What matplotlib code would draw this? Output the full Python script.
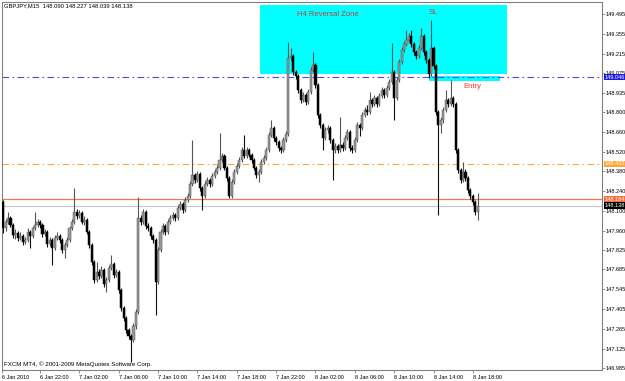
import numpy as np
import matplotlib
matplotlib.use("Agg")
import matplotlib.pyplot as plt
from matplotlib.patches import Rectangle
import matplotlib.transforms as mtransforms

# GBPJPY M15 candles, 6 Jan 18:15 -> 8 Jan 18:30
header = "GBPJPY,M15  148.090 148.227 148.039 148.138"
first_open = 148.162
closes = [
    147.977, 148.020, 148.048, 147.999, 147.928, 147.942, 147.907, 147.921, 147.878, 147.892,
    147.949, 147.921, 147.977, 147.999, 148.020, 147.999, 147.935, 147.949, 147.864, 147.892,
    147.836, 147.907, 147.921, 147.892, 147.821, 147.857, 147.892, 147.977, 148.020, 148.091,
    148.063, 148.084, 148.020, 148.034, 147.949, 147.857, 147.736, 147.609, 147.666, 147.637,
    147.679, 147.580, 147.609, 147.694, 147.722, 147.644, 147.666, 147.538, 147.410, 147.339,
    147.254, 147.212, 147.183, 147.283, 147.382, 148.048, 148.020, 148.091, 147.992, 147.977,
    147.921, 147.892, 147.595, 147.821, 147.949, 147.992, 147.949, 148.020, 148.048, 148.070,
    148.048, 148.119, 148.148, 148.105, 148.176, 148.204, 148.289, 148.353, 148.318, 148.360,
    148.261, 148.204, 148.289, 148.318, 148.289, 148.346, 148.375, 148.403, 148.460, 148.488,
    148.403, 148.332, 148.204, 148.304, 148.375, 148.417, 148.460, 148.531, 148.488, 148.531,
    148.495, 148.460, 148.403, 148.353, 148.375, 148.445, 148.474, 148.531, 148.637, 148.686,
    148.616, 148.587, 148.545, 148.531, 148.601, 148.644, 149.183, 149.197, 149.084, 149.055,
    148.956, 148.885, 148.920, 148.871, 148.942, 149.098, 149.133, 148.991, 148.779, 148.708,
    148.616, 148.672, 148.686, 148.601, 148.531, 148.559, 148.531, 148.566, 148.545, 148.616,
    148.658, 148.545, 148.531, 148.601, 148.708, 148.686, 148.779, 148.814, 148.800, 148.885,
    148.857, 148.899, 148.857, 148.913, 148.956, 148.920, 148.970, 149.013, 149.084, 148.899,
    149.027, 149.154, 149.239, 149.282, 149.310, 149.339, 149.282, 149.225, 149.197, 149.254,
    149.339, 149.225, 149.169, 149.069, 149.254, 149.126, 148.800, 148.708, 148.743, 148.814,
    148.885, 148.857, 148.899, 148.857, 148.531, 148.389, 148.318, 148.375, 148.332, 148.247,
    148.204, 148.162, 148.090, 148.138,
]
highs = [
    148.176, 148.041, 148.091, 148.062, 148.013, 147.970, 147.956, 147.949, 147.935, 147.914,
    147.977, 147.963, 147.992, 148.091, 148.041, 148.034, 148.013, 147.970, 147.963, 147.914,
    147.907, 147.928, 147.949, 147.935, 147.907, 147.878, 147.914, 147.992, 148.041, 148.261,
    148.112, 148.105, 148.098, 148.062, 148.048, 147.963, 147.871, 147.750, 147.736, 147.687,
    147.708, 147.694, 147.630, 147.715, 147.786, 147.736, 147.687, 147.680, 147.552, 147.424,
    147.353, 147.268, 147.226, 147.304, 147.403, 148.197, 148.069, 148.112, 148.105, 148.013,
    147.992, 147.935, 147.907, 147.843, 147.970, 148.013, 148.006, 148.041, 148.069, 148.091,
    148.084, 148.140, 148.169, 148.162, 148.197, 148.226, 148.311, 148.601, 148.367, 148.382,
    148.375, 148.275, 148.311, 148.339, 148.332, 148.367, 148.396, 148.424, 148.651, 148.509,
    148.502, 148.417, 148.346, 148.325, 148.396, 148.438, 148.481, 148.552, 148.637, 148.552,
    148.545, 148.509, 148.474, 148.417, 148.396, 148.467, 148.495, 148.552, 148.658, 148.743,
    148.700, 148.630, 148.601, 148.559, 148.623, 148.665, 149.296, 149.254, 149.211, 149.098,
    149.069, 148.970, 148.942, 148.935, 148.963, 149.120, 149.225, 149.147, 149.006, 148.793,
    148.722, 148.694, 148.708, 148.700, 148.616, 148.580, 148.573, 148.765, 148.587, 148.637,
    148.680, 148.672, 148.566, 148.623, 148.729, 148.722, 148.800, 148.835, 148.850, 148.942,
    148.899, 148.920, 148.913, 148.935, 148.977, 148.970, 148.991, 149.034, 149.289, 149.098,
    149.048, 149.176, 149.261, 149.303, 149.381, 149.360, 149.381, 149.296, 149.239, 149.275,
    149.395, 149.353, 149.240, 149.183, 149.452, 149.268, 149.140, 148.814, 148.765, 148.835,
    148.956, 148.899, 149.027, 148.913, 148.871, 148.545, 148.403, 148.445, 148.396, 148.346,
    148.261, 148.218, 148.176, 148.227,
]
lows = [
    147.942, 147.956, 148.006, 147.985, 147.907, 147.900, 147.886, 147.893, 147.857, 147.864,
    147.878, 147.836, 147.907, 147.963, 147.985, 147.977, 147.914, 147.921, 147.843, 147.850,
    147.715, 147.821, 147.893, 147.871, 147.800, 147.765, 147.843, 147.878, 147.963, 148.006,
    148.041, 148.048, 148.006, 147.999, 147.935, 147.836, 147.715, 147.588, 147.595, 147.616,
    147.623, 147.559, 147.523, 147.595, 147.680, 147.623, 147.630, 147.517, 147.389, 147.318,
    147.233, 147.191, 147.027, 147.169, 147.262, 147.368, 147.999, 148.006, 147.970, 147.956,
    147.900, 147.871, 147.361, 147.581, 147.807, 147.935, 147.928, 147.935, 148.006, 148.034,
    148.027, 148.034, 148.105, 148.084, 148.091, 148.162, 148.190, 148.275, 148.297, 148.304,
    148.240, 148.105, 148.190, 148.275, 148.268, 148.275, 148.332, 148.360, 148.389, 148.445,
    148.389, 148.311, 148.190, 148.190, 148.290, 148.360, 148.403, 148.445, 148.474, 148.474,
    148.481, 148.438, 148.389, 148.332, 148.304, 148.360, 148.431, 148.460, 148.517, 148.623,
    148.595, 148.566, 148.524, 148.510, 148.517, 148.587, 148.630, 149.162, 149.063, 149.034,
    148.935, 148.864, 148.871, 148.850, 148.857, 148.928, 149.084, 148.970, 148.758, 148.687,
    148.531, 148.602, 148.651, 148.580, 148.318, 148.510, 148.510, 148.517, 148.524, 148.531,
    148.602, 148.524, 148.510, 148.517, 148.587, 148.630, 148.672, 148.765, 148.779, 148.786,
    148.836, 148.843, 148.836, 148.843, 148.899, 148.899, 148.906, 148.956, 148.999, 148.743,
    148.885, 149.013, 149.140, 149.225, 149.268, 149.296, 149.261, 149.204, 149.176, 149.183,
    149.240, 149.204, 149.148, 149.041, 149.055, 149.105, 148.779, 148.070, 148.651, 148.722,
    148.800, 148.836, 148.843, 148.836, 148.510, 148.368, 148.297, 148.304, 148.311, 148.226,
    148.183, 148.141, 148.069, 148.039,
]

# right price scale
price_ticks = [149.495, 149.355, 149.215, 149.075, 148.935, 148.800, 148.660, 148.520, 148.380,
               148.240, 148.100, 147.960, 147.825, 147.685, 147.545, 147.405, 147.265, 147.125, 146.985]
# time scale: first label is the left edge, then every 16 bars (4 hours)
time_labels = ["6 Jan 2010", "6 Jan 22:00", "7 Jan 02:00", "7 Jan 06:00", "7 Jan 10:00",
               "7 Jan 14:00", "7 Jan 18:00", "7 Jan 22:00", "8 Jan 02:00", "8 Jan 06:00",
               "8 Jan 10:00", "8 Jan 14:00", "8 Jan 18:00"]

# horizontal lines (price, label shown on the scale)
blue_level = 149.048
orange_level = 148.433
red_level = 148.184
bid_level = 148.138

# objects drawn on chart (bar index, price)
zone_x = (104.4, 204.8)
zone_y = (149.070, 149.559)
entry_x = (173.1, 202.0)
entry_y = (149.020, 149.056)

narrow = ["Liberation Sans Narrow", "Liberation Sans", "DejaVu Sans"]
arial = ["Liberation Sans", "DejaVu Sans"]

opens = [first_open] + closes[:-1]
o = np.array(opens)
c = np.array(closes)
h = np.array(highs)
l = np.array(lows)
x = np.arange(len(c))
bull = c >= o

fig = plt.figure(figsize=(6.25, 3.81), dpi=100)
fig.patch.set_facecolor("white")
ax = fig.add_axes([2 / 625, 11 / 381, 600 / 625, 368 / 381])

ax.set_xlim(-0.45, 243.5)
ax.set_ylim(146.973, 149.580)

# zone rectangles (behind candles)
ax.add_patch(Rectangle((zone_x[0], zone_y[0]), zone_x[1] - zone_x[0], zone_y[1] - zone_y[0],
                       facecolor="#00ffff", edgecolor="none", zorder=1))
ax.add_patch(Rectangle((entry_x[0], entry_y[0]), entry_x[1] - entry_x[0], entry_y[1] - entry_y[0],
                       facecolor="#00ffff", edgecolor="none", zorder=1))

# horizontal lines
ax.axhline(blue_level, color="#4a4af0", lw=0.8, ls=(0, (6, 3, 1.5, 3)), zorder=2)
ax.axhline(orange_level, color="#ffa733", lw=0.8, ls=(0, (6, 3, 1.5, 3)), zorder=2)
ax.axhline(red_level, color="#f07850", lw=0.9, zorder=2)
ax.axhline(bid_level, color="#c8c8c8", lw=0.8, zorder=2)

# candles
ax.vlines(x[bull], l[bull], h[bull], color="#555555", lw=0.8, zorder=3)
ax.vlines(x[~bull], l[~bull], h[~bull], color="#101010", lw=0.8, zorder=3)
body_lo = np.minimum(o, c)
body_h = np.maximum(np.abs(c - o), 0.003)
ax.bar(x[bull], body_h[bull], bottom=body_lo[bull], width=0.85, color="#999999",
       edgecolor="#555555", linewidth=0.35, zorder=4)
ax.bar(x[~bull], body_h[~bull], bottom=body_lo[~bull], width=0.85, color="#000000",
       edgecolor="#000000", linewidth=0.35, zorder=4)

# object texts
ax.text(132.1, 149.488, "H4 Reversal Zone", color="#c83c3c", fontsize=5.5, family=arial,
        ha="center", va="center", zorder=5)
ax.text(174.8, 149.509, "SL", color="#c83c3c", fontsize=5.5, family=arial,
        ha="center", va="center", zorder=5)
ax.text(190.6, 148.978, "Entry", color="#ff3838", fontsize=5.5, family=arial,
        ha="center", va="center", zorder=5)

# axes styling
for s in ax.spines.values():
    s.set_color("#808080")
    s.set_linewidth(0.8)
ax.yaxis.tick_right()
ax.set_yticks(price_ticks)
ax.set_yticklabels(["%.3f" % v for v in price_ticks], fontsize=4.0, family=narrow)
ax.tick_params(axis="y", length=2, width=0.6, color="#808080", pad=0.8)
tick_pos = [-0.45] + [15 + 16 * k for k in range(len(time_labels) - 1)]
ax.set_xticks(tick_pos)
ax.set_xticklabels(time_labels, fontsize=4.0, family=narrow, ha="left")
ax.tick_params(axis="x", length=2, width=0.6, color="#808080", pad=1.5)

# price labels on the scale
tr = mtransforms.blended_transform_factory(ax.transAxes, ax.transData)
for lvl, txt, col in [(blue_level, "149.046", "#1a1ae6"), (orange_level, "148.433", "#ffa733"),
                      (red_level, "148.184", "#ff6a3a"), (bid_level, "148.138", "#000000")]:
    ax.text(1.004, lvl, txt, transform=tr, fontsize=4.0, family=narrow, color="white",
            ha="left", va="center", clip_on=False, zorder=6,
            bbox=dict(boxstyle="square,pad=0.15", fc=col, ec="none"))

fig.text(4 / 625, 1 - 6 / 381, header, fontsize=4.2, family=narrow, ha="left", va="center")
ax.text(0.003, 0.016, "FXCM MT4, \u00a9 2001-2009 MetaQuotes Software Corp.", transform=ax.transAxes,
        fontsize=4.4, family=narrow, ha="left", va="center", zorder=6)

fig.savefig("out.png", dpi=100)
